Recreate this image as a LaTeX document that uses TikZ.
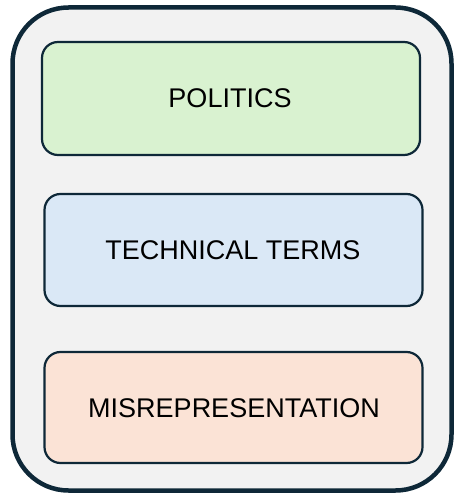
\documentclass[tikz,border=0pt]{standalone}
\usepackage{fontspec}
\setmainfont{Liberation Sans}
\definecolor{navy}{HTML}{0E2838}
\definecolor{outerfill}{HTML}{F2F2F2}
\definecolor{green1}{HTML}{D9F2D0}
\definecolor{blue1}{HTML}{DAE8F6}
\definecolor{peach1}{HTML}{FBE3D6}
\tikzset{
  outerbox/.style={draw=navy, line width=4.5pt, fill=outerfill, rounded corners=56pt},
  topicbox/.style={draw=navy, line width=2.2pt, rounded corners=16pt},
  topictext/.style={font=\fontsize{27}{30}\selectfont, text=black, inner sep=0pt}
}
\begin{document}
\begin{tikzpicture}[x=1pt, y=-1pt]
\useasboundingbox (0,0) rectangle (455,497);
\draw[outerbox] (12.5,7.5) rectangle (451.5,490.5);
\draw[topicbox, fill=green1] (42,42) rectangle (420,155);
\draw[topicbox, fill=blue1] (44.5,194) rectangle (422.5,306);
\draw[topicbox, fill=peach1] (44.5,352) rectangle (422.5,463);
\node[topictext] (politics) at (230,98.5) {POLITICS};
\node[topictext] (technical) at (233,250) {TECHNICAL TERMS};
\node[topictext] (misrep) at (234,408) {MISREPRESENTATION};
\end{tikzpicture}
\end{document}
